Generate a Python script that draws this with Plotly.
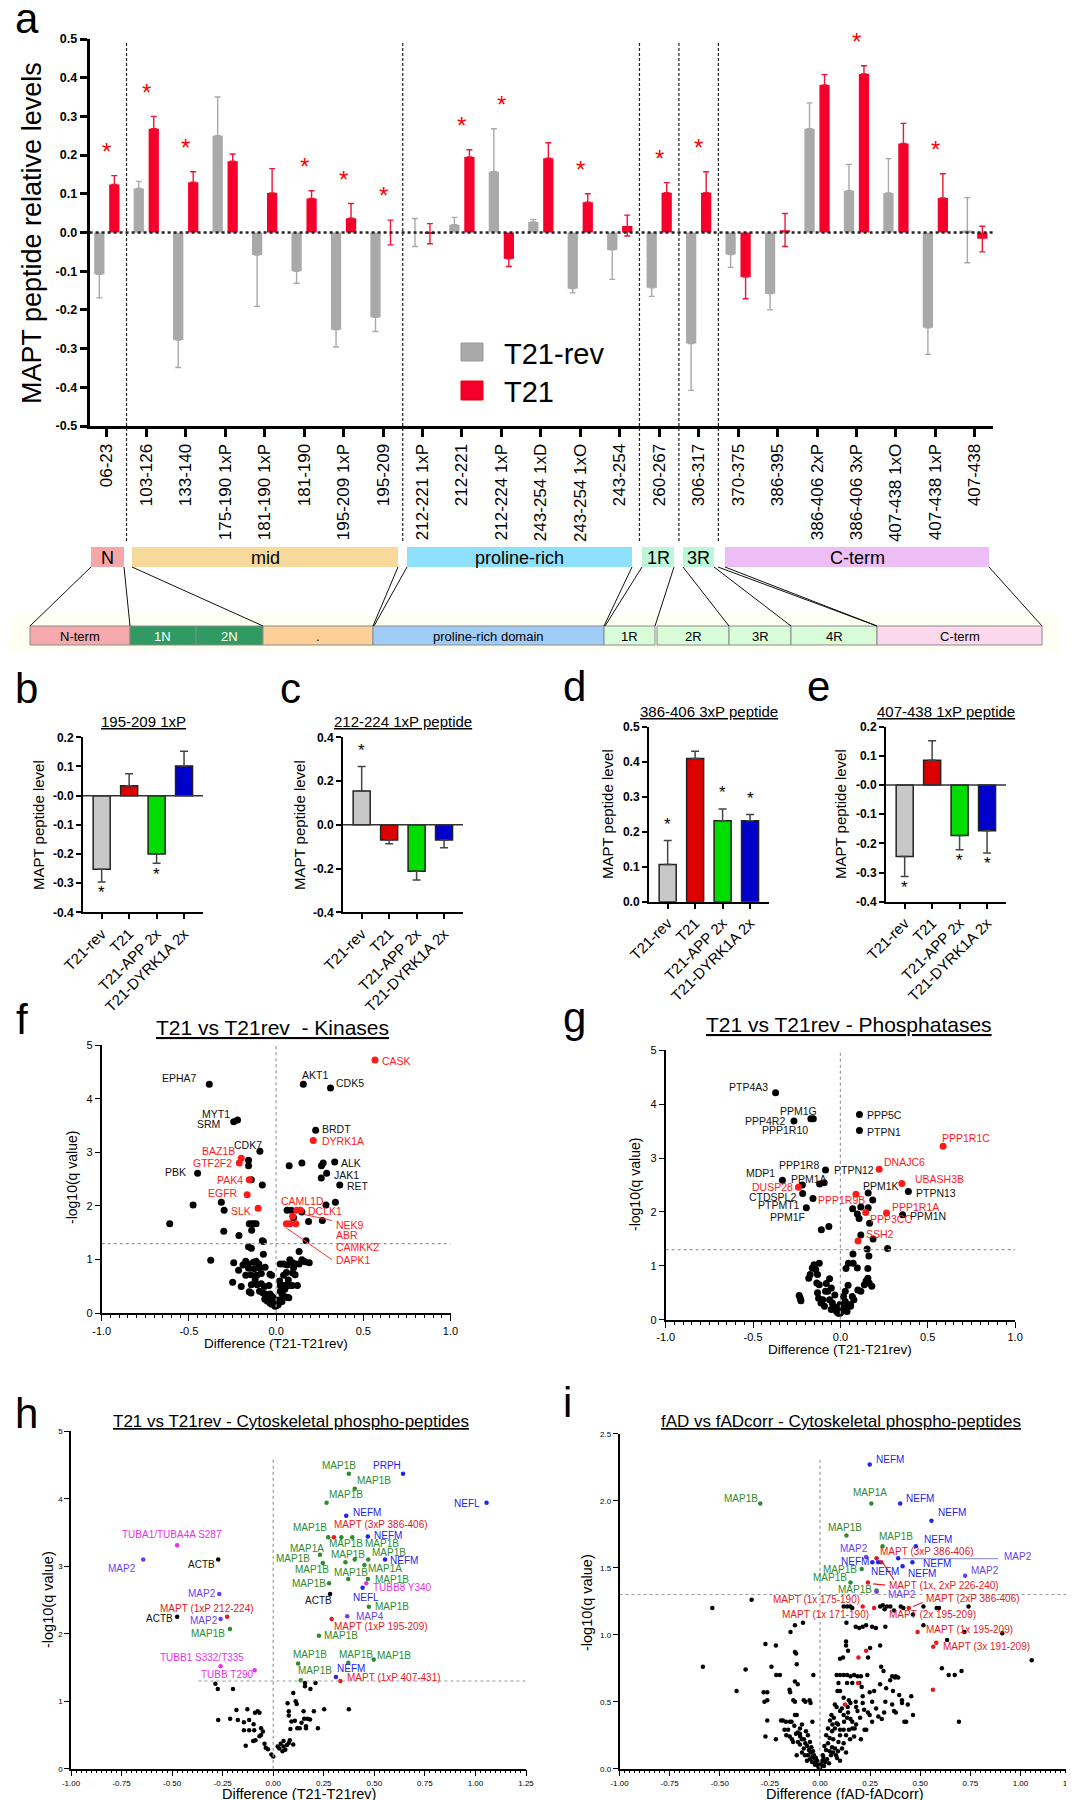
import plotly.graph_objects as go

W, H = 1074, 1800
FONT = "Arial, 'Liberation Sans', Helvetica, sans-serif"


def fx(p):
    return p / W


def fy(p):
    return 1 - p / H


# ======================= DATA =======================
# ---- panel a : MAPT peptides
peptides = ["06-23", "103-126", "133-140", "175-190 1xP", "181-190 1xP", "181-190",
            "195-209 1xP", "195-209", "212-221 1xP", "212-221", "212-224 1xP",
            "243-254 1xD", "243-254 1xO", "243-254", "260-267", "306-317",
            "370-375", "386-395", "386-406 2xP", "386-406 3xP", "407-438 1xO",
            "407-438 1xP", "407-438"]
t21rev_level = [-0.108, 0.114, -0.278, 0.250, -0.058, -0.100, -0.251, -0.219, 0.000, 0.020, 0.157,
                0.027, -0.145, -0.045, -0.143, -0.287, -0.057, -0.158, 0.268, 0.108, 0.102, -0.246, 0.005]
t21rev_err_up = [0, 0.018, 0, 0.100, 0, 0, 0, 0, 0.036, 0.019, 0.111,
                 0.007, 0, 0, 0, 0, 0, 0, 0.067, 0.068, 0.089, 0, 0.085]
t21rev_err_down = [0.061, 0, 0.071, 0, 0.133, 0.031, 0.045, 0.037, 0.036, 0, 0,
                   0, 0.011, 0.076, 0.022, 0.121, 0.033, 0.042, 0, 0, 0, 0.069, 0.083]
t21_level = [0.124, 0.268, 0.130, 0.184, 0.102, 0.088, 0.037, 0.000, -0.003, 0.195, -0.068,
             0.192, 0.078, 0.017, 0.103, 0.103, -0.115, 0.006, 0.381, 0.410, 0.230, 0.089, -0.016]
t21_err_up = [0.023, 0.032, 0.027, 0.019, 0.063, 0.020, 0.038, 0.032, 0.026, 0.019, 0,
              0.040, 0.022, 0.028, 0.026, 0.054, 0, 0.043, 0.027, 0.021, 0.052, 0.063, 0.032]
t21_err_down = [0, 0, 0, 0, 0, 0, 0, 0.032, 0.026, 0, 0.020,
                0, 0, 0.026, 0, 0, 0.056, 0.042, 0, 0, 0, 0, 0.034]
a_significant = [1, 1, 1, 0, 0, 1, 1, 1, 0, 1, 1, 0, 1, 0, 1, 1, 0, 0, 0, 1, 0, 1, 0]

# ---- panels b-e
cell_lines = ["T21-rev", "T21", "T21-APP 2x", "T21-DYRK1A 2x"]
b_level = [-0.252, 0.034, -0.200, 0.102]
b_sem = [0.044, 0.041, 0.032, 0.050]
b_sig = [1, 0, 1, 0]
c_level = [0.155, -0.069, -0.212, -0.069]
c_sem = [0.112, 0.018, 0.040, 0.036]
c_sig = [1, 0, 0, 0]
d_level = [0.106, 0.409, 0.231, 0.231]
d_sem = [0.069, 0.021, 0.034, 0.018]
d_sig = [1, 0, 1, 1]
e_level = [-0.245, 0.085, -0.173, -0.157]
e_sem = [0.069, 0.067, 0.049, 0.076]
e_sig = [1, 0, 1, 1]

# ---- panel f : kinases (difference, -log10 q)
f_black = [(-0.383, 4.27), (0.156, 4.27), (0.312, 4.20), (-0.221, 3.60), (-0.243, 3.57), (0.227, 3.41),
           (-0.093, 3.02), (0.336, 2.82), (0.290, 2.61), (0.365, 2.39), (-0.450, 2.61),
           (0.075, 2.75), (0.148, 2.80), (0.260, 2.75), (0.270, 2.80), (0.259, 2.52), (-0.158, 2.85),
           (-0.158, 2.75), (-0.142, 2.49), (-0.079, 2.39), (-0.314, 2.07), (-0.476, 2.02), (-0.298, 1.92),
           (0.286, 2.02), (0.340, 2.07), (0.148, 1.89), (0.063, 1.92), (0.087, 1.92), (0.186, 1.71),
           (0.265, 1.73), (-0.610, 1.67), (-0.154, 1.67), (-0.140, 1.67), (-0.128, 1.67), (-0.115, 1.67),
           (-0.140, 1.55), (-0.300, 1.53), (-0.213, 1.45), (-0.079, 1.35), (-0.073, 1.34), (0.172, 1.35),
           (0.100, 1.78), (-0.375, 0.99), (-0.158, 1.24), (-0.142, 1.21), (-0.073, 1.10), (0.132, 1.15),
           (0.148, 1.00), (0.190, 0.94), (0.166, 0.96), (0.079, 1.00), (0.095, 0.94), (0.024, 0.92),
           (0.043, 0.92), (0.063, 0.90), (0.112, 0.92), (0.132, 0.92), (-0.243, 0.94), (-0.174, 0.97),
           (-0.160, 0.92), (-0.130, 0.95), (-0.115, 0.97), (-0.099, 0.92), (-0.095, 0.84), (-0.125, 0.83),
           (-0.158, 0.84), (-0.215, 0.80), (-0.174, 0.71), (-0.144, 0.72), (-0.110, 0.71), (-0.085, 0.74),
           (-0.063, 0.86), (-0.035, 0.73), (-0.026, 0.71), (0.043, 0.71), (0.059, 0.76), (0.095, 0.75),
           (0.109, 0.72), (-0.249, 0.58), (-0.200, 0.50), (-0.142, 0.53), (-0.109, 0.53), (-0.085, 0.55),
           (-0.067, 0.50), (-0.041, 0.52), (0.024, 0.52), (0.043, 0.52), (0.059, 0.52), (0.079, 0.52),
           (0.093, 0.52), (0.122, 0.52), (-0.154, 0.40), (-0.144, 0.38), (-0.095, 0.41), (-0.075, 0.38),
           (-0.063, 0.36), (-0.055, 0.34), (-0.035, 0.36), (-0.026, 0.32), (-0.016, 0.29), (0.024, 0.41),
           (0.034, 0.36), (0.043, 0.32), (0.063, 0.30), (0.073, 0.29), (-0.065, 0.26), (-0.051, 0.23),
           (-0.035, 0.19), (-0.016, 0.19), (-0.006, 0.16), (0.002, 0.14), (0.012, 0.16), (0.024, 0.21),
           (0.034, 0.22), (-0.026, 0.17), (-0.006, 0.13), (0.006, 0.20), (0.016, 0.25), (-0.045, 0.30),
           (0.050, 0.45), (-0.120, 0.62), (0.020, 0.60), (0.100, 0.85), (-0.190, 0.90), (0.070, 0.62)]
f_red = [(0.567, 4.72), (0.213, 3.22), (-0.200, 2.89), (-0.211, 2.80), (-0.154, 2.49), (-0.166, 2.21),
         (-0.103, 1.96), (0.118, 1.92), (0.140, 1.92), (0.095, 1.81), (0.059, 1.67), (0.079, 1.67),
         (0.113, 1.67)]
f_labels = [("CASK", 0.596, 4.71, "l", "r"), ("EPHA7", -0.444, 4.39, "r", "k"),
            ("AKT1", 0.223, 4.45, "c", "k"), ("CDK5", 0.330, 4.30, "l", "k"),
            ("MYT1", -0.253, 3.72, "r", "k"), ("SRM", -0.312, 3.52, "r", "k"),
            ("BRDT", 0.251, 3.43, "l", "k"), ("DYRK1A", 0.251, 3.22, "l", "r"),
            ("CDK7", -0.069, 3.14, "r", "k"), ("BAZ1B", -0.223, 3.03, "r", "r"),
            ("GTF2F2", -0.239, 2.80, "r", "r"), ("PBK", -0.505, 2.63, "r", "k"),
            ("PAK4", -0.178, 2.49, "r", "r"), ("EGFR", -0.207, 2.24, "r", "r"),
            ("SLK", -0.134, 1.90, "r", "r"), ("ALK", 0.363, 2.80, "l", "k"),
            ("JAK1", 0.320, 2.58, "l", "k"), ("RET", 0.393, 2.37, "l", "k"),
            ("CAML1D", 0.014, 2.10, "l", "r"), ("DCLK1", 0.172, 1.90, "l", "r"),
            ("NEK9", 0.330, 1.65, "l", "r"), ("ABR", 0.330, 1.45, "l", "r"),
            ("CAMKK2", 0.330, 1.23, "l", "r"), ("DAPK1", 0.330, 1.00, "l", "r")]
f_leaders = [((0.162, 1.84), (0.320, 1.73)), ((0.059, 1.59), (0.320, 1.00))]

# ---- panel g : phosphatases
g_black = [(-0.371, 4.21), (-0.169, 3.73), (-0.155, 3.73), (-0.266, 3.69), (0.109, 3.81), (0.109, 3.51),
           (0.389, 2.38), (-0.085, 2.78), (-0.093, 2.54), (-0.119, 2.52), (-0.332, 2.59), (-0.218, 2.50),
           (-0.216, 2.34), (-0.157, 2.25), (-0.195, 2.08), (0.159, 2.35), (0.356, 1.95), (0.185, 2.22),
           (0.070, 2.06), (0.117, 2.09), (0.159, 2.08), (0.097, 1.96), (0.107, 1.88), (0.167, 1.79),
           (-0.109, 1.67), (-0.066, 1.73), (0.117, 1.57), (0.187, 1.50), (0.153, 1.31), (0.270, 1.32),
           (0.072, 1.22), (0.046, 1.05), (0.073, 1.05), (0.097, 0.96), (0.157, 0.95), (0.163, 1.18),
           (0.032, 0.95), (0.157, 0.77), (0.147, 0.72), (0.137, 0.65), (0.117, 0.53), (0.044, 0.64),
           (0.028, 0.53), (0.068, 0.43), (0.077, 0.37), (0.058, 0.28), (0.038, 0.25), (0.018, 0.43),
           (0.028, 0.34), (-0.002, 0.28), (0.008, 0.22), (-0.022, 0.19), (-0.032, 0.22), (-0.042, 0.25),
           (-0.052, 0.19), (-0.046, 0.31), (-0.062, 0.37), (-0.032, 0.46), (-0.072, 0.53), (-0.052, 0.59),
           (-0.081, 0.67), (-0.062, 0.76), (-0.085, 0.53), (-0.121, 0.65), (-0.131, 0.50), (-0.125, 0.40),
           (-0.091, 0.25), (-0.111, 0.31), (-0.101, 0.37), (-0.181, 0.77), (-0.161, 0.96), (-0.151, 1.02),
           (-0.121, 1.05), (-0.131, 0.84), (-0.141, 0.93), (-0.135, 0.68), (-0.173, 0.84), (-0.236, 0.45),
           (-0.230, 0.40), (-0.226, 0.35), (-0.022, 0.15), (-0.012, 0.12), (0.008, 0.15), (0.018, 0.17),
           (0.038, 0.15), (0.058, 0.25), (-0.018, 0.22), (-0.002, 0.12), (0.180, 0.62), (0.165, 0.68),
           (0.100, 0.55)]
g_red = [(0.588, 3.22), (0.222, 2.79), (0.352, 2.53), (-0.240, 2.46), (0.089, 2.33), (0.145, 1.99),
         (0.264, 1.98), (0.101, 1.46)]
g_labels = [("PTP4A3", -0.403, 4.32, "r", "k"), ("PPM1G", -0.238, 3.88, "c", "k"),
            ("PPP4R2", -0.308, 3.69, "r", "k"), ("PPP1R10", -0.175, 3.53, "r", "k"),
            ("PPP5C", 0.139, 3.79, "l", "k"), ("PTPN1", 0.139, 3.48, "l", "k"),
            ("PPP1R1C", 0.717, 3.38, "c", "r"), ("DNAJC6", 0.236, 2.92, "l", "r"),
            ("UBASH3B", 0.415, 2.61, "l", "r"), ("PTPN13", 0.419, 2.35, "l", "k"),
            ("PPP1R8", -0.111, 2.87, "r", "k"), ("PTPN12", -0.050, 2.78, "l", "k"),
            ("MDP1", -0.363, 2.72, "r", "k"), ("PPM1A", -0.068, 2.61, "r", "k"),
            ("DUSP28", -0.260, 2.46, "r", "r"), ("CTDSPL2", -0.240, 2.27, "r", "k"),
            ("PTPMT1", -0.220, 2.12, "r", "k"), ("PPM1F", -0.190, 1.91, "r", "k"),
            ("PPP1R9B", 0.153, 2.23, "r", "r"), ("PPM1K", 0.117, 2.48, "l", "k"),
            ("PPP3CC", 0.157, 1.86, "l", "r"), ("PPP1R1A", 0.286, 2.09, "l", "r"),
            ("PPM1N", 0.385, 1.93, "l", "k"), ("SSH2", 0.133, 1.59, "l", "r")]

# ---- panel h : cytoskeletal phospho-peptides, T21 vs T21rev
h_black = [(-0.272, 3.10), (0.281, 2.59), (-0.475, 2.25),
           (-0.286, 1.26), (-0.274, 1.18), (-0.199, 1.18), (-0.272, 0.72), (-0.182, 0.87), (-0.128, 0.88),
           (-0.175, 0.72), (-0.213, 0.74), (-0.145, 0.69), (-0.119, 0.72), (-0.090, 0.83), (-0.077, 0.85),
           (-0.068, 0.83), (-0.097, 0.66), (-0.145, 0.57), (-0.119, 0.57), (-0.094, 0.57), (-0.060, 0.60),
           (-0.051, 0.55), (-0.060, 0.50), (-0.068, 0.48), (-0.099, 0.41), (-0.088, 0.42), (-0.136, 0.34),
           (-0.043, 0.37), (-0.037, 0.31), (-0.026, 0.29), (-0.009, 0.21), (0.000, 0.18), (0.022, 0.33),
           (0.037, 0.37), (0.051, 0.41), (0.051, 0.33), (0.068, 0.35), (0.046, 0.26), (0.077, 0.38),
           (0.099, 0.36), (0.082, 0.42), (0.085, 0.59), (0.119, 0.60), (0.131, 0.60), (0.162, 0.63),
           (0.162, 0.60), (0.221, 0.60), (0.107, 0.71), (0.077, 0.85), (0.071, 0.97), (0.099, 1.12),
           (0.111, 1.00), (0.116, 0.96), (0.077, 0.79), (0.150, 0.85), (0.153, 0.74), (0.170, 0.74),
           (0.182, 0.73), (0.201, 0.85), (0.252, 0.88), (0.374, 0.88), (0.157, 1.22), (0.157, 1.27),
           (0.184, 1.18), (0.209, 1.27), (0.090, 0.70), (0.140, 0.68), (0.030, 0.30), (0.060, 0.28)]
h_green = [(0.374, 4.37), (0.403, 4.15), (0.264, 3.94), (0.272, 3.43), (0.337, 3.43), (0.391, 3.43),
           (0.231, 3.17), (0.245, 3.05), (0.357, 3.06), (0.403, 3.10), (0.470, 3.10), (0.451, 3.02),
           (0.371, 2.81), (0.468, 2.81), (0.276, 2.75), (0.473, 2.40), (0.226, 1.97), (0.123, 1.56),
           (0.371, 1.57), (0.497, 1.62), (0.136, 1.31), (-0.214, 2.07)]
h_blue = [(0.642, 4.37), (1.055, 3.94), (0.361, 3.75), (0.468, 3.44), (0.553, 3.10), (0.442, 2.68),
          (0.310, 1.36)]
h_purple = [(-0.643, 3.10), (-0.267, 2.59), (-0.260, 2.22), (0.366, 2.26)]
h_magenta = [(-0.475, 3.31), (0.460, 2.75), (-0.260, 1.52), (-0.092, 1.46)]
h_red = [(0.300, 3.43), (0.289, 2.22), (0.332, 1.30), (-0.228, 2.25)]
h_labels = [("MAP1B", 0.323, 4.49, "c", "g"), ("PRPH", 0.561, 4.49, "c", "b"),
            ("MAP1B", 0.500, 4.27, "c", "g"), ("MAP1B", 0.358, 4.06, "c", "g"),
            ("NEFL", 1.034, 3.93, "r", "b"), ("NEFM", 0.383, 3.79, "l", "b"),
            ("MAPT (3xP 386-406)", 0.289, 3.62, "l", "R"), ("MAP1B", 0.183, 3.57, "c", "g"),
            ("NEFM", 0.488, 3.46, "l", "b"), ("MAP1B", 0.358, 3.33, "c", "g"),
            ("MAP1B", 0.540, 3.33, "c", "g"), ("MAP1A", 0.165, 3.27, "c", "g"),
            ("MAP1B", 0.100, 3.11, "c", "g"), ("MAP1B", 0.368, 3.18, "c", "g"),
            ("MAP1B", 0.573, 3.20, "c", "g"), ("NEFM", 0.570, 3.08, "l", "b"),
            ("MAP1B", 0.193, 2.95, "c", "g"), ("MAP1B", 0.386, 2.91, "c", "g"),
            ("MAP1A", 0.552, 2.97, "c", "g"), ("MAP1B", 0.178, 2.75, "c", "g"),
            ("MAP1B", 0.586, 2.81, "c", "g"), ("TUBB8 Y340", 0.482, 2.68, "l", "m"),
            ("NEFL", 0.458, 2.54, "c", "b"), ("ACTB", 0.225, 2.50, "c", "k"),
            ("MAP1B", 0.586, 2.40, "c", "g"), ("MAP4", 0.397, 2.26, "l", "p"),
            ("MAPT (1xP 195-209)", 0.293, 2.11, "l", "R"), ("MAP1B", 0.337, 1.98, "c", "g"),
            ("MAP1B", 0.183, 1.69, "c", "g"), ("MAP1B", 0.409, 1.69, "c", "g"),
            ("MAP1B", 0.598, 1.68, "c", "g"), ("MAP1B", 0.207, 1.45, "c", "g"),
            ("NEFM", 0.384, 1.48, "c", "b"), ("MAPT (1xP 407-431)", 0.354, 1.35, "l", "R"),
            ("TUBA1/TUBA4A S287", -0.500, 3.47, "c", "m"), ("MAP2", -0.749, 2.97, "c", "p"),
            ("ACTB", -0.354, 3.02, "c", "k"), ("MAP2", -0.354, 2.59, "c", "p"),
            ("MAPT (1xP 212-224)", -0.329, 2.37, "c", "R"), ("ACTB", -0.563, 2.23, "c", "k"),
            ("MAP2", -0.342, 2.20, "c", "p"), ("MAP1B", -0.325, 2.01, "c", "g"),
            ("TUBB1 S332/T335", -0.352, 1.65, "c", "m"), ("TUBB T290", -0.228, 1.39, "c", "m")]

# ---- panel i : cytoskeletal phospho-peptides, fAD vs fADcorr
i_black = [(-0.341, 1.26), (-0.537, 1.20), (0.741, 1.21), (0.118, 1.21), (0.135, 1.21), (0.152, 1.21),
           (0.161, 1.20), (0.300, 1.21), (0.313, 1.22), (0.334, 1.21), (0.351, 1.21), (0.403, 1.21),
           (0.416, 1.20), (0.516, 1.21), (0.582, 1.20), (0.594, 1.20), (0.322, 1.19), (0.369, 1.18),
           (0.464, 1.15), (0.516, 1.07), (0.132, 1.09), (0.178, 1.06), (0.196, 1.05), (0.213, 1.06),
           (0.230, 1.07), (0.260, 1.06), (0.279, 1.05), (0.326, 1.06), (0.720, 1.02), (0.909, 1.01),
           (0.634, 0.96), (1.056, 0.81), (0.130, 0.95), (0.130, 0.92), (0.140, 0.88), (0.250, 0.90),
           (0.300, 0.92), (0.240, 0.83), (0.100, 0.82), (0.115, 0.83), (0.305, 0.76), (0.378, 0.69),
           (0.390, 0.68), (-0.125, 1.07), (-0.147, 1.02), (-0.085, 1.09), (-0.272, 0.93), (-0.220, 0.92),
           (-0.119, 0.86), (-0.125, 0.87), (-0.116, 0.78), (-0.033, 0.70), (-0.584, 0.76), (-0.371, 0.74),
           (-0.416, 0.58), (-0.242, 0.76), (-0.218, 0.70), (-0.200, 0.70), (-0.125, 0.65), (-0.111, 0.63),
           (-0.152, 0.59), (-0.149, 0.57), (-0.281, 0.57), (-0.263, 0.57), (-0.277, 0.50), (-0.263, 0.51),
           (-0.133, 0.51), (-0.125, 0.50), (-0.081, 0.51), (-0.073, 0.50), (-0.052, 0.51), (-0.047, 0.49),
           (-0.038, 0.35), (-0.194, 0.36), (-0.263, 0.36), (-0.220, 0.22), (-0.272, 0.24), (-0.185, 0.36),
           (-0.177, 0.29), (-0.159, 0.29), (-0.142, 0.35), (-0.125, 0.40), (-0.116, 0.40), (-0.128, 0.32),
           (-0.111, 0.27), (-0.099, 0.24), (-0.090, 0.22), (-0.073, 0.19), (-0.064, 0.17), (-0.055, 0.14),
           (-0.047, 0.12), (-0.038, 0.09), (-0.029, 0.08), (-0.021, 0.05), (-0.012, 0.03), (-0.007, 0.01),
           (0.000, 0.00), (-0.116, 0.10), (-0.081, 0.15), (-0.151, 0.24), (-0.168, 0.25), (-0.134, 0.20),
           (-0.100, 0.30), (-0.090, 0.33), (-0.070, 0.28), (-0.060, 0.25), (-0.050, 0.20), (-0.043, 0.16),
           (-0.035, 0.13), (-0.030, 0.10), (-0.020, 0.08), (-0.015, 0.06), (-0.100, 0.18), (-0.110, 0.20),
           (-0.080, 0.22), (-0.060, 0.10), (-0.050, 0.07), (-0.040, 0.05), (-0.025, 0.03), (-0.140, 0.22),
           (-0.120, 0.26), (-0.170, 0.35), (-0.150, 0.35), (-0.100, 0.26), (-0.090, 0.12), (-0.075, 0.10),
           (-0.065, 0.06), (0.083, 0.70), (0.100, 0.70), (0.118, 0.70), (0.135, 0.70), (0.152, 0.69),
           (0.170, 0.70), (0.187, 0.69), (0.204, 0.69), (0.236, 0.70), (0.317, 0.73), (0.360, 0.69),
           (0.374, 0.68), (0.608, 0.75), (0.642, 0.70), (0.706, 0.73), (0.672, 0.70), (0.693, 0.35),
           (0.092, 0.64), (0.135, 0.64), (0.161, 0.64), (0.196, 0.64), (0.087, 0.58), (0.100, 0.58),
           (0.208, 0.61), (0.248, 0.57), (0.364, 0.58), (0.395, 0.55), (0.455, 0.54), (0.118, 0.53),
           (0.144, 0.51), (0.178, 0.50), (0.213, 0.54), (0.074, 0.48), (0.083, 0.46), (0.109, 0.45),
           (0.138, 0.46), (0.152, 0.49), (0.213, 0.49), (0.326, 0.50), (0.360, 0.48), (0.409, 0.51),
           (0.409, 0.49), (0.438, 0.48), (0.369, 0.43), (0.378, 0.42), (0.464, 0.40), (0.187, 0.43),
           (0.239, 0.42), (0.248, 0.40), (0.291, 0.39), (0.308, 0.37), (0.421, 0.35), (0.430, 0.35),
           (0.260, 0.35), (0.100, 0.43), (0.118, 0.40), (0.135, 0.38), (0.152, 0.37), (0.161, 0.35),
           (0.057, 0.40), (0.069, 0.38), (0.083, 0.34), (0.062, 0.33), (0.074, 0.30), (0.100, 0.29),
           (0.118, 0.29), (0.144, 0.29), (0.161, 0.30), (0.173, 0.30), (0.222, 0.29), (0.231, 0.29),
           (0.204, 0.22), (0.031, 0.25), (0.048, 0.23), (0.066, 0.22), (0.092, 0.20), (0.118, 0.19),
           (0.040, 0.19), (0.022, 0.17), (0.030, 0.14), (0.048, 0.13), (0.014, 0.10), (0.017, 0.08),
           (0.007, 0.05), (0.003, 0.03), (0.005, 0.02), (0.060, 0.16), (0.075, 0.15), (0.090, 0.13),
           (0.100, 0.25), (0.130, 0.25), (0.150, 0.22), (0.170, 0.24), (0.035, 0.07), (0.025, 0.05),
           (0.055, 0.10), (0.065, 0.12), (0.080, 0.10), (0.045, 0.04), (0.020, 0.02), (0.012, 0.06),
           (0.200, 0.38), (0.180, 0.33), (0.280, 0.45), (0.320, 0.42), (0.330, 0.60), (0.350, 0.66),
           (0.300, 0.63), (0.270, 0.58), (0.260, 0.50), (0.060, 0.28), (0.040, 0.30), (0.050, 0.36),
           (0.220, 0.44), (0.180, 0.46), (0.140, 0.42), (0.120, 0.35), (0.090, 0.33), (0.110, 0.15),
           (0.130, 0.12), (0.085, 0.08), (0.100, 0.06)]
i_red = [(0.282, 1.57), (0.305, 1.54), (0.239, 1.39), (0.213, 1.21), (0.270, 1.20), (0.443, 1.20),
         (0.487, 1.02), (0.580, 0.94), (0.565, 0.91), (0.230, 0.88), (0.192, 0.83), (0.190, 0.64),
         (0.563, 0.59), (0.125, 0.48)]
i_green = [(-0.298, 1.98), (0.256, 1.98), (0.132, 1.74), (0.312, 1.66), (0.208, 1.49), (0.152, 1.39),
           (0.282, 1.33)]
i_blue = [(0.248, 2.27), (0.400, 1.98), (0.556, 1.85), (0.478, 1.66), (0.261, 1.54), (0.290, 1.54),
          (0.390, 1.57), (0.461, 1.54), (0.412, 1.51)]
i_purple = [(0.230, 1.58), (0.724, 1.44), (0.282, 1.32)]
i_labels = [("NEFM", 0.268, 2.31, "l", "b"), ("MAP1B", -0.298, 2.02, "r", "g"),
            ("MAP1A", 0.251, 2.06, "c", "g"), ("NEFM", 0.417, 2.02, "l", "b"),
            ("NEFM", 0.580, 1.91, "l", "b"), ("MAP1B", 0.126, 1.80, "c", "g"),
            ("MAP1B", 0.381, 1.73, "c", "g"), ("NEFM", 0.507, 1.71, "l", "b"),
            ("MAP2", 0.168, 1.64, "c", "p"), ("MAPT (3xP 386-406)", 0.291, 1.62, "l", "R"),
            ("NEFM", 0.173, 1.55, "c", "b"), ("NEFM", 0.326, 1.47, "c", "b"),
            ("NEFM", 0.427, 1.46, "l", "b"), ("NEFM", 0.504, 1.53, "l", "b"),
            ("MAP2", 0.906, 1.58, "l", "p"), ("MAP2", 0.741, 1.48, "l", "p"),
            ("MAP1B", 0.099, 1.49, "c", "g"), ("MAP1B", 0.052, 1.43, "c", "g"),
            ("MAP1B", 0.175, 1.34, "c", "g"), ("MAP2", 0.330, 1.30, "l", "p"),
            ("MAPT (1x, 2xP 226-240)", 0.334, 1.37, "l", "R"), ("MAPT (1x 175-190)", 0.210, 1.26, "r", "R"),
            ("MAPT (1x 171-190)", 0.256, 1.15, "r", "R"), ("MAPT (2xP 386-406)", 0.521, 1.27, "l", "R"),
            ("MAPT (2x 195-209)", 0.334, 1.15, "l", "R"), ("MAPT (1x 195-209)", 0.521, 1.04, "l", "R"),
            ("MAPT (3x 191-209)", 0.603, 0.91, "l", "R")]
i_leaders = [((0.308, 1.55), (0.369, 1.41), "R"), ((0.265, 1.38), (0.326, 1.37), "R"),
             ((0.464, 1.21), (0.511, 1.24), "R"), ((0.412, 1.567), (0.888, 1.567), "P")]

# ======================= FIGURE =======================
COL = dict(k="#111111", r="#ff1a1a", R="#e3191c", g="#2e8b2e", b="#2323ee",
           p="#6a3ff0", m="#e632e6", P="#9a9ae8")

fig = go.Figure()
annotations = []
shapes = []
layout = dict(width=W, height=H, margin=dict(l=0, r=0, t=0, b=0, pad=0, autoexpand=False), autosize=False,
              paper_bgcolor="white", plot_bgcolor="rgba(0,0,0,0)", showlegend=False,
              barmode="overlay", font=dict(family=FONT, color="black"))


def xn(n):
    return "x" if n == 1 else f"x{n}"


def yn(n):
    return "y" if n == 1 else f"y{n}"


def xk(n):
    return "xaxis" if n == 1 else f"xaxis{n}"


def yk(n):
    return "yaxis" if n == 1 else f"yaxis{n}"


def base_axis(**kw):
    d = dict(showgrid=False, zeroline=False, showline=True, linecolor="black", ticks="outside",
             tickcolor="black", fixedrange=True, automargin=False,
             tickfont=dict(family=FONT, size=11, color="black"))
    d.update(kw)
    return d


def text(t, x, y, size, color="black", xanchor="center", yanchor="middle", angle=0,
         weight="normal", xref="paper", yref="paper", xshift=0, yshift=0):
    if xref == "paper":
        x = fx(x)
    if yref == "paper":
        y = fy(y)
    annotations.append(dict(text=t, x=x, y=y, xref=xref, yref=yref, showarrow=False,
                            xanchor=xanchor, yanchor=yanchor, textangle=angle,
                            xshift=xshift, yshift=yshift,
                            font=dict(family=FONT, size=size, color=color, weight=weight)))


def fmt(v, nd=1):
    return f"{v:.{nd}f}"


# ---------- panel a ----------
cat = list(range(len(peptides)))
layout[xk(1)] = base_axis(domain=[fx(81.6), fx(984.6)], anchor="y", range=[-0.436, 22.45],
                          tickmode="array", tickvals=cat, ticktext=peptides, tickangle=-90,
                          linewidth=3, ticklen=8, tickwidth=2.5,
                          tickfont=dict(family=FONT, size=17, color="black"))
a_ticks = [round(-0.5 + 0.1 * k, 1) for k in range(11)]
layout[yk(1)] = base_axis(domain=[fy(418), fy(31)], anchor="x", range=[-0.5, 0.5],
                          tickmode="array", tickvals=a_ticks, ticktext=[fmt(v) for v in a_ticks],
                          linewidth=3, ticklen=7, tickwidth=2.5,
                          tickfont=dict(family=FONT, size=12.5, color="black", weight="bold"))
fig.add_trace(go.Bar(x=cat, y=t21rev_level, width=0.26, offset=-0.32, xaxis="x", yaxis="y",
                     marker=dict(color="#a9a9a9", line=dict(width=0)),
                     error_y=dict(type="data", symmetric=False, array=t21rev_err_up,
                                  arrayminus=t21rev_err_down, color="#a9a9a9", thickness=1.4, width=3)))
fig.add_trace(go.Bar(x=cat, y=t21_level, width=0.26, offset=0.06, xaxis="x", yaxis="y",
                     marker=dict(color="#f4002b", line=dict(width=0)),
                     error_y=dict(type="data", symmetric=False, array=t21_err_up,
                                  arrayminus=t21_err_down, color="#ee1535", thickness=1.4, width=3)))
shapes.append(dict(type="line", xref="x domain", x0=0, x1=1, yref="y", y0=0, y1=0,
                   line=dict(color="#222", width=2.5, dash="dot")))
for k, s in enumerate(a_significant):
    if s:
        top = max(t21rev_level[k] + t21rev_err_up[k], t21_level[k] + t21_err_up[k])
        text("*", k, top + 0.05, 24, color="#ff0000", xref="x", yref="y", yshift=5)
for sep in [0.5, 7.5, 13.5, 14.5, 15.5]:
    shapes.append(dict(type="line", xref="x", x0=sep, x1=sep, yref="paper", y0=fy(533), y1=fy(34),
                       line=dict(color="#222", width=1.2, dash="3px,2px")))
text("MAPT peptide relative levels", 24, 225, 27, angle=-90)
text("a", 5, 36, 42, xanchor="left", yanchor="bottom")
# legend
shapes.append(dict(type="rect", xref="paper", yref="paper", x0=fx(453), x1=fx(475), y0=fy(353), y1=fy(335),
                   fillcolor="#a9a9a9", line=dict(color="#999", width=1)))
shapes.append(dict(type="rect", xref="paper", yref="paper", x0=fx(453), x1=fx(475), y0=fy(392), y1=fy(373),
                   fillcolor="#f4002b", line=dict(color="#e00", width=1)))
text("T21-rev", 494, 346, 29, xanchor="left")
text("T21", 494, 384, 29, xanchor="left")

# ---------- MAPT domain diagram ----------
dom_names = ["N", "mid", "proline-rich", "1R", "3R", "C-term"]
dom_colors = ["#f5a6a6", "#f6d99b", "#8fe1fb", "#bdf5d8", "#bdf5d8", "#ecbef5"]
dom_px = [(83, 116), (124, 390), (399, 624), (634, 666), (675, 706), (717, 981)]
for nm, c, (x0, x1) in zip(dom_names, dom_colors, dom_px):
    shapes.append(dict(type="rect", xref="paper", yref="paper", x0=fx(x0), x1=fx(x1), y0=fy(559), y1=fy(539),
                       fillcolor=c, line=dict(width=0)))
    text(nm, (x0 + x1) / 2, 550, 18)
shapes.append(dict(type="rect", xref="paper", yref="paper", x0=fx(2), x1=fx(1052), y0=fy(644), y1=fy(608),
                   fillcolor="#fefef2", line=dict(width=0)))
seg_names = ["N-term", "1N", "2N", ".", "proline-rich domain", "1R", "2R", "3R", "4R", "C-term"]
seg_colors = ["#f6a9ad", "#2f9a62", "#2f9a62", "#fdd09a", "#a0cdf8", "#d8fbd8", "#d8fbd8", "#d8fbd8",
              "#d8fbd8", "#fbd8eb"]
seg_px = [(22, 122), (122, 188), (188, 255), (255, 365), (365, 596), (596, 647), (649, 721), (721, 783),
          (783, 869), (869, 1034)]
for nm, c, (x0, x1) in zip(seg_names, seg_colors, seg_px):
    shapes.append(dict(type="rect", xref="paper", yref="paper", x0=fx(x0), x1=fx(x1), y0=fy(637), y1=fy(618),
                       fillcolor=c, line=dict(color="#8a8a8a", width=1)))
    text(nm, (x0 + x1) / 2, 628, 13, color="white" if nm in ("1N", "2N") else "black")
for (a0, b0, a1, b1) in [(83, 559, 22, 618), (116, 559, 122, 618), (124, 559, 255, 618),
                         (390, 559, 365, 618), (399, 559, 366, 618), (624, 559, 596, 618),
                         (634, 559, 597, 618), (666, 559, 647, 618), (675, 559, 721, 618),
                         (706, 559, 783, 618), (710, 559, 869, 618), (717, 559, 869, 618),
                         (981, 559, 1034, 618)]:
    shapes.append(dict(type="line", xref="paper", yref="paper", x0=fx(a0), y0=fy(b0), x1=fx(a1), y1=fy(b1),
                       line=dict(color="#111", width=1)))

# ---------- panels b-e ----------
bar_cols = ["#c8c8c8", "#dd0000", "#00dd00", "#0000cc"]


def bar_panel(n, levels, sems, sigs, dom_x, dom_y, yr, ystep, title, title_xy, ytitle_xy, letter, letter_xy):
    ticks = []
    v = yr[0]
    while v <= yr[1] + 1e-9:
        ticks.append(round(v, 2))
        v += ystep
    layout[xk(n)] = base_axis(domain=[fx(dom_x[0]), fx(dom_x[1])], anchor=yn(n), range=[-0.68, 3.69],
                              tickmode="array", tickvals=[0, 1, 2, 3], ticktext=cell_lines, tickangle=-45,
                              linewidth=2, ticklen=5, tickwidth=1.5,
                              tickfont=dict(family=FONT, size=15, color="black"))
    layout[yk(n)] = base_axis(domain=[fy(dom_y[1]), fy(dom_y[0])], anchor=xn(n), range=yr,
                              tickmode="array", tickvals=ticks, ticktext=[fmt(t) for t in ticks],
                              linewidth=2, ticklen=5, tickwidth=1.5,
                              tickfont=dict(family=FONT, size=12, color="black", weight="bold"))
    up = [s if l >= 0 else 0 for l, s in zip(levels, sems)]
    dn = [s if l < 0 else 0 for l, s in zip(levels, sems)]
    fig.add_trace(go.Bar(x=[0, 1, 2, 3], y=levels, width=0.62, xaxis=xn(n), yaxis=yn(n),
                         marker=dict(color=bar_cols, line=dict(color="#222", width=1.5)),
                         error_y=dict(type="data", symmetric=False, array=up, arrayminus=dn,
                                      color="#444", thickness=1.5, width=4)))
    if yr[0] < 0:
        shapes.append(dict(type="line", xref=f"{xn(n)} domain", x0=0, x1=1, yref=yn(n), y0=0, y1=0,
                           line=dict(color="#333", width=1.5)))
    for k, s in enumerate(sigs):
        if s:
            if levels[k] >= 0:
                text("*", k, levels[k] + sems[k], 17, xref=xn(n), yref=yn(n), yshift=16)
            else:
                text("*", k, levels[k] - sems[k], 17, xref=xn(n), yref=yn(n), yshift=-11)
    text(f"<u>{title}</u>", title_xy[0], title_xy[1], 15)
    text("MAPT peptide level", ytitle_xy[0], ytitle_xy[1], 15, angle=-90)
    text(letter, letter_xy[0], letter_xy[1], 42, xanchor="left", yanchor="bottom")


bar_panel(2, b_level, b_sem, b_sig, (75, 195), (729.3, 904.3), [-0.4, 0.2], 0.1, "195-209 1xP",
          (135, 713), (30, 817), "b", (5, 706))
bar_panel(3, c_level, c_sem, c_sig, (335, 455), (729.3, 904.3), [-0.4, 0.4], 0.2, "212-224 1xP peptide",
          (395, 713), (291, 817), "c", (270, 706))
bar_panel(4, d_level, d_sem, d_sig, (641, 761), (718.7, 893.7), [0.0, 0.5], 0.1, "386-406 3xP peptide",
          (701, 703), (599, 806), "d", (553, 704))
bar_panel(5, e_level, e_sem, e_sig, (878, 998), (718.7, 893.7), [-0.4, 0.2], 0.1, "407-438 1xP peptide",
          (938, 703), (832, 806), "e", (797, 704))


# ---------- scatter panels ----------
def points(n, pts, color, size):
    fig.add_trace(go.Scatter(x=[p[0] for p in pts], y=[p[1] for p in pts], mode="markers",
                             xaxis=xn(n), yaxis=yn(n), cliponaxis=False, hoverinfo="skip",
                             marker=dict(size=size, color=color, line=dict(width=0))))


def labels(n, labs, size):
    for t, x, y, anc, c in labs:
        xa = {"l": "left", "r": "right", "c": "center"}[anc]
        text(t, x, y, size, color=COL[c], xanchor=xa, xref=xn(n), yref=yn(n))


def guide(n, x0, x1, y0, y1):
    shapes.append(dict(type="line", xref=xn(n), yref=yn(n), x0=x0, x1=x1, y0=y0, y1=y1,
                       line=dict(color="#9a9a9a", width=1.2, dash="dot")))


def volcano_axes(n, dom_x, dom_y, xr, yr, xt, xt_text, yt, yt_text, tsize, minor, lw):
    layout[xk(n)] = base_axis(domain=[fx(dom_x[0]), fx(dom_x[1])], anchor=yn(n), range=xr,
                              tickmode="array", tickvals=xt, ticktext=xt_text, linewidth=lw,
                              ticklen=6, tickwidth=1.3,
                              minor=dict(dtick=minor, ticklen=3, tickwidth=1, tickcolor="black",
                                         ticks="outside", tick0=xr[0]),
                              tickfont=dict(family=FONT, size=tsize, color="black"))
    layout[yk(n)] = base_axis(domain=[fy(dom_y[1]), fy(dom_y[0])], anchor=xn(n), range=yr,
                              tickmode="array", tickvals=yt, ticktext=yt_text, linewidth=lw,
                              ticklen=5, tickwidth=1.3,
                              tickfont=dict(family=FONT, size=tsize, color="black"))


fg_xt = [-1, -0.5, 0, 0.5, 1]
fg_xt_text = ["-1.0", "-0.5", "0.0", "0.5", "1.0"]
fg_yt = [0, 1, 2, 3, 4, 5]
hi_xt = [-1, -0.75, -0.5, -0.25, 0, 0.25, 0.5, 0.75, 1, 1.25]
hi_xt_text = [f"{v:.2f}" for v in hi_xt]

# f
volcano_axes(6, (93.7, 442.5), (1037, 1305.3), [-1, 1], [0, 5], fg_xt, fg_xt_text,
             fg_yt, [str(v) for v in fg_yt], 11, 0.05, 2)
guide(6, -1, 1, 1.3, 1.3)
guide(6, 0, 0, 0, 5)
points(6, f_black, "#000", 7)
points(6, f_red, "#ff1a1a", 7)
for (p0, p1) in f_leaders:
    shapes.append(dict(type="line", xref="x6", yref="y6", x0=p0[0], y0=p0[1], x1=p1[0], y1=p1[1],
                       line=dict(color="#ff3030", width=1)))
labels(6, f_labels, 10.5)
text("<u>T21 vs T21rev  - Kinases</u>", 264.5, 1019, 21)
text("Difference (T21-T21rev)", 268, 1335, 13.5)
text("-log10(q value)", 64, 1170, 14, angle=-90)
text("f", 6, 1037, 42, xanchor="left", yanchor="bottom")

# g
volcano_axes(7, (657.7, 1007.1), (1042.3, 1311.7), [-1, 1], [0, 5], fg_xt, fg_xt_text,
             fg_yt, [str(v) for v in fg_yt], 11, 0.05, 2)
guide(7, -1, 1, 1.3, 1.3)
guide(7, 0, 0, 0, 5)
points(7, g_black, "#000", 7)
points(7, g_red, "#ff1a1a", 7)
labels(7, g_labels, 10.5)
text("<u>T21 vs T21rev - Phosphatases</u>", 841, 1017, 21)
text("Difference (T21-T21rev)", 832, 1341, 13.5)
text("-log10(q value)", 627, 1177, 14, angle=-90)
text("g", 553, 1035, 42, xanchor="left", yanchor="bottom")

# h
volcano_axes(8, (63, 518), (1423.3, 1760.7), [-1, 1.25], [0, 5], hi_xt, hi_xt_text,
             fg_yt, [str(v) for v in fg_yt], 8, 0.025, 1.5)
guide(8, -0.37, 1.25, 1.3, 1.3)
guide(8, 0, 0, 0, 4.6)
points(8, h_black, "#000", 4.5)
points(8, h_green, COL["g"], 4.5)
points(8, h_blue, COL["b"], 4.5)
points(8, h_purple, COL["p"], 4.5)
points(8, h_magenta, COL["m"], 4.5)
points(8, h_red, COL["R"], 4.5)
labels(8, h_labels, 10)
text("<u>T21 vs T21rev - Cytoskeletal phospho-peptides</u>", 283, 1413, 17)
text("Difference (T21-T21rev)", 291, 1786, 14.5)
text("-log10(q value)", 40, 1592, 14.5, angle=-90)
text("h", 5, 1431, 42, xanchor="left", yanchor="bottom")

# i
i_yt = [0, 0.5, 1, 1.5, 2, 2.5]
volcano_axes(9, (611.5, 1062.6), (1425.7, 1760.7), [-1, 1.25], [0, 2.5], hi_xt, hi_xt_text,
             i_yt, [fmt(v) for v in i_yt], 8, 0.025, 1.5)
guide(9, -1, 1.25, 1.3, 1.3)
guide(9, 0, 0, 0, 2.32)
points(9, i_black, "#000", 4.5)
points(9, i_red, COL["R"], 4.5)
points(9, i_green, COL["g"], 4.5)
points(9, i_blue, COL["b"], 4.5)
points(9, i_purple, COL["p"], 4.5)
for (p0, p1, c) in i_leaders:
    shapes.append(dict(type="line", xref="x9", yref="y9", x0=p0[0], y0=p0[1], x1=p1[0], y1=p1[1],
                       line=dict(color=COL[c], width=1.2)))
labels(9, i_labels, 10)
text("<u>fAD vs fADcorr - Cytoskeletal phospho-peptides</u>", 833, 1413, 17)
text("Difference (fAD-fADcorr)", 837, 1786, 14.5)
text("-log10(q value)", 579, 1595, 14.5, angle=-90)
text("i", 553, 1420, 42, xanchor="left", yanchor="bottom")

layout["annotations"] = annotations
layout["shapes"] = shapes
fig.update_layout(**layout)
fig.write_html("out.html")
